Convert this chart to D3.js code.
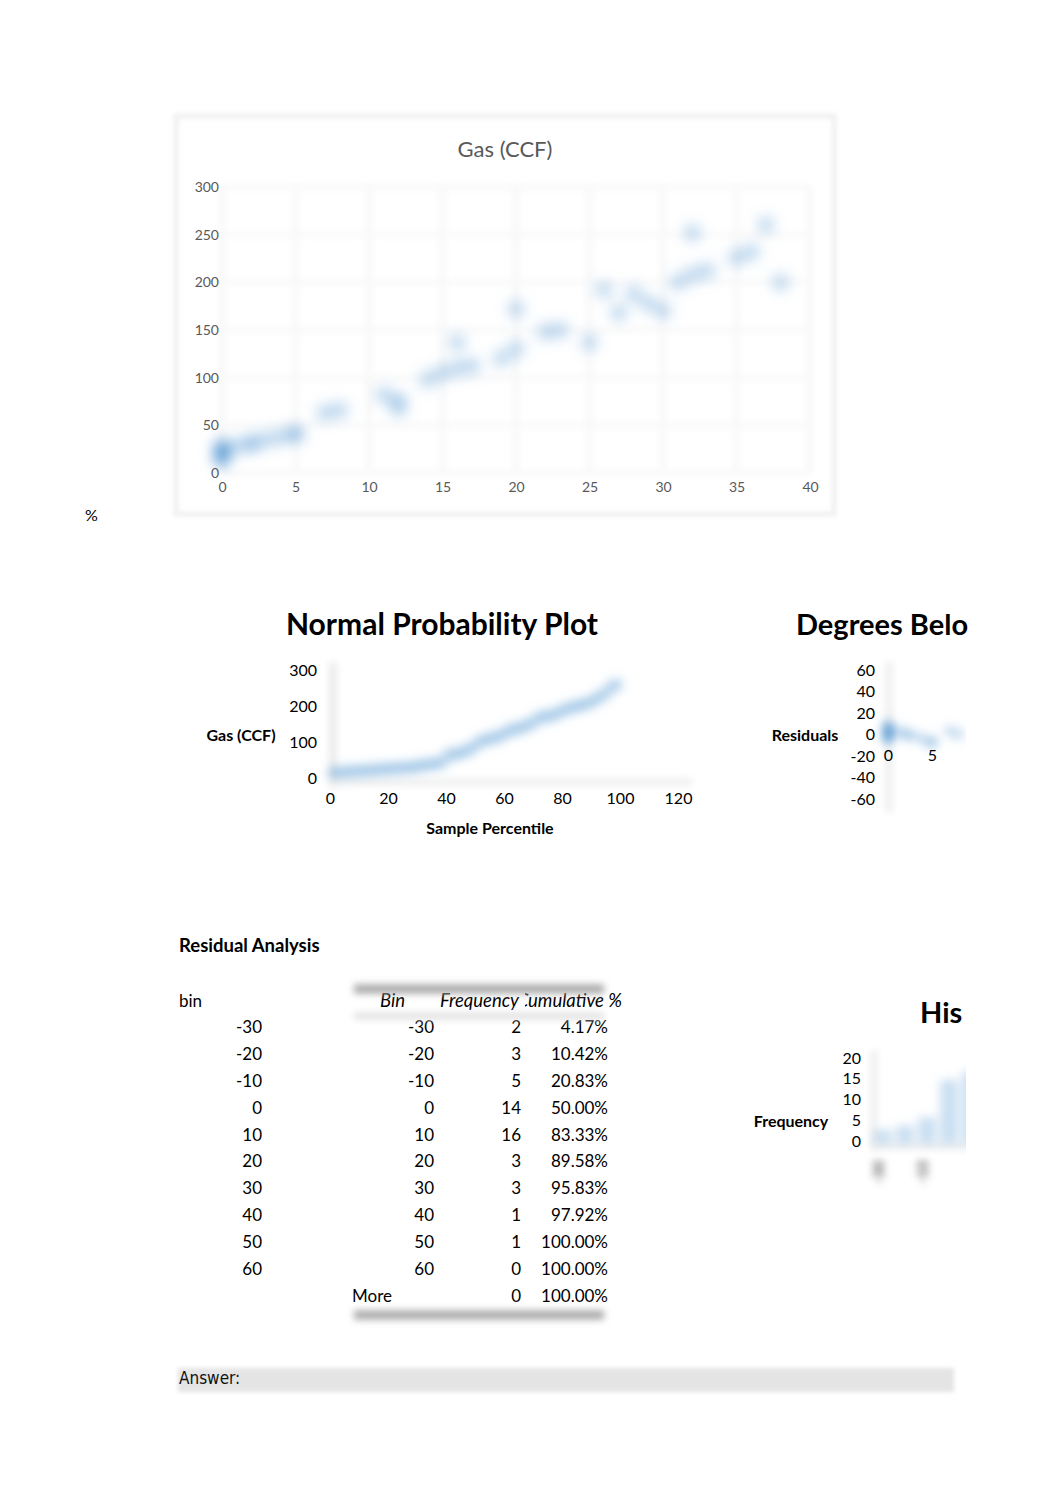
<!DOCTYPE html>
<html lang="en">
<head>
<meta charset="UTF-8">
<title>Gas regression</title>
<script src="https://cdn.jsdelivr.net/npm/d3@7/dist/d3.min.js"></script>
<style>
    body { margin: 0; background: #fff; }
    svg { font-family: Lato, "Open Sans", sans-serif; }
    .axis path, .axis line { display: none; }
</style>
</head>
<body>
<svg id="page"></svg>
<script>
    // data
    const degrees = [0, 0, 0, 0, 0, 0, 0, 0, 0, 0, 0, 0, 1, 2, 2, 3, 4, 5, 5, 7, 8, 11, 12, 12,
        14, 15, 16, 16, 17, 19, 20, 20, 22, 23, 25, 26, 27, 28, 29, 30, 31, 32, 32, 33, 35, 36, 37, 38];
    const gas = [14, 16, 17, 18, 19, 20, 21, 22, 24, 25, 26, 28, 28, 30, 32, 35, 38, 40, 42, 63, 66, 82, 68, 76,
        98, 105, 110, 137, 112, 120, 130, 172, 148, 150, 137, 192, 168, 188, 178, 170, 200, 208, 252, 212, 226, 232, 260, 200];

    const scatterXTicks = [0, 5, 10, 15, 20, 25, 30, 35, 40];
    const scatterYTicks = [0, 50, 100, 150, 200, 250, 300];
    const probXTicks = [0, 20, 40, 60, 80, 100, 120];
    const probYTicks = [0, 100, 200, 300];
    const residYTicks = [-60, -40, -20, 0, 20, 40, 60];
    const residXTicks = [0, 5];
    const histYTicks = [0, 5, 10, 15, 20];

    const binLabels = ['-30', '-20', '-10', '0', '10', '20', '30', '40', '50', '60'];
    const histBins = ['-30', '-20', '-10', '0', '10', '20', '30', '40', '50', '60', 'More'];
    const histFreq = [2, 3, 5, 14, 16, 3, 3, 1, 1, 0, 0];

    const svg = d3.select('#page').attr('width', 1062).attr('height', 1506);
    svg.append('rect').attr('width', 1062).attr('height', 1506).attr('fill', '#fff');

    // blur filters in page units, so thin lines (zero-size bbox) still render
    const defs = svg.append('defs');
    [2, 3.5, 7, 5].forEach((s, i) => {
        defs.append('filter').attr('id', 'blur' + i).attr('filterUnits', 'userSpaceOnUse')
            .attr('x', 0).attr('y', 0).attr('width', 1062).attr('height', 1506)
            .append('feGaussianBlur').attr('stdDeviation', s);
    });

    const plain = d => String(d);   // hyphen minus, no decimals

    function styleTicks(g, size, color) {
        g.selectAll('text').attr('font-size', size).attr('fill', color).attr('font-family', 'Lato, sans-serif');
    }

    // ---------- scatter: Gas (CCF) ----------
    svg.append('rect').attr('x', 176).attr('y', 116).attr('width', 658).attr('height', 398)
        .attr('fill', 'none').attr('stroke', '#f0f0f0').attr('stroke-width', 5).attr('filter', 'url(#blur0)');

    const x1 = d3.scaleLinear().domain([0, 40]).range([222, 810]);
    const y1 = d3.scaleLinear().domain([0, 300]).range([473, 187]);

    const grid1 = svg.append('g').attr('filter', 'url(#blur1)');
    grid1.selectAll('.v').data(scatterXTicks).enter().append('line')
        .attr('x1', d => x1(d)).attr('x2', d => x1(d)).attr('y1', y1(300)).attr('y2', y1(0))
        .attr('stroke', '#f5f5f5').attr('stroke-width', 4);
    grid1.selectAll('.h').data(scatterYTicks).enter().append('line')
        .attr('x1', x1(0)).attr('x2', x1(40)).attr('y1', d => y1(d)).attr('y2', d => y1(d))
        .attr('stroke', '#f7f7f7').attr('stroke-width', 4);

    svg.append('g').attr('filter', 'url(#blur2)')
        .selectAll('circle').data(degrees).enter().append('circle')
        .attr('cx', d => x1(d)).attr('cy', (d, i) => y1(gas[i])).attr('r', 8)
        .attr('fill', '#5b9bd5').attr('fill-opacity', 0.45);

    svg.append('text').attr('x', 505).attr('y', 157).attr('text-anchor', 'middle')
        .attr('font-size', 22).attr('fill', '#595959').text('Gas (CCF)');

    svg.append('g').attr('class', 'axis').attr('transform', `translate(${x1(0)},0)`)
        .call(d3.axisLeft(y1).tickValues(scatterYTicks).tickFormat(plain).tickSize(0).tickPadding(3))
        .call(g => styleTicks(g, 14, '#595959'));
    svg.append('g').attr('class', 'axis').attr('transform', `translate(0,${y1(0)})`)
        .call(d3.axisBottom(x1).tickValues(scatterXTicks).tickFormat(plain).tickSize(0).tickPadding(9))
        .call(g => styleTicks(g, 14, '#595959'));

    svg.append('text').attr('x', 85).attr('y', 521).attr('font-size', 16).text('%');

    // ---------- normal probability plot ----------
    const sorted = gas.slice().sort((a, b) => a - b);
    const n = sorted.length;
    const probPts = sorted.map((v, i) => ({ p: (i + 0.5) * 100 / n, v: v }));

    const x2 = d3.scaleLinear().domain([0, 120]).range([330, 678]);
    const y2 = d3.scaleLinear().domain([0, 300]).range([778, 670]);

    const frame2 = svg.append('g').attr('filter', 'url(#blur1)');
    frame2.append('line').attr('x1', x2(0) + 3).attr('x2', x2(0) + 3).attr('y1', 662).attr('y2', 788)
        .attr('stroke', '#e8e8e8').attr('stroke-width', 7);
    frame2.append('line').attr('x1', x2(0)).attr('x2', 692).attr('y1', y2(0) + 4).attr('y2', y2(0) + 4)
        .attr('stroke', '#efefef').attr('stroke-width', 7);

    svg.append('g').attr('filter', 'url(#blur3)')
        .selectAll('circle').data(probPts).enter().append('circle')
        .attr('cx', d => x2(d.p)).attr('cy', d => y2(d.v)).attr('r', 7)
        .attr('fill', '#5b9bd5').attr('fill-opacity', 0.3);

    svg.append('text').attr('x', 442).attr('y', 635).attr('text-anchor', 'middle')
        .attr('font-size', 30).attr('font-weight', 'bold').text('Normal Probability Plot');
    svg.append('g').attr('class', 'axis').attr('transform', `translate(${x2(0)},0)`)
        .call(d3.axisLeft(y2).tickValues(probYTicks).tickFormat(plain).tickSize(0).tickPadding(13))
        .call(g => styleTicks(g, 16, '#000'));
    svg.append('g').attr('class', 'axis').attr('transform', `translate(0,${y2(0)})`)
        .call(d3.axisBottom(x2).tickValues(probXTicks).tickFormat(plain).tickSize(0).tickPadding(15))
        .call(g => styleTicks(g, 16, '#000'));
    svg.append('text').attr('x', 241).attr('y', 741).attr('text-anchor', 'middle')
        .attr('font-size', 16).attr('font-weight', 'bold').text('Gas (CCF)');
    svg.append('text').attr('x', 490).attr('y', 834).attr('text-anchor', 'middle')
        .attr('font-size', 16).attr('font-weight', 'bold').text('Sample Percentile');

    // ---------- residual plot (cut off at the page edge) ----------
    const fit = (() => {
        const mx = d3.mean(degrees), my = d3.mean(gas);
        const b = d3.sum(degrees, (d, i) => (d - mx) * (gas[i] - my)) / d3.sum(degrees, d => (d - mx) * (d - mx));
        return { a: my - b * mx, b: b };
    })();
    const residuals = degrees.map((d, i) => gas[i] - (fit.a + fit.b * d));

    const x3 = d3.scaleLinear().domain([0, 5]).range([888, 932]);
    const y3 = d3.scaleLinear().domain([-60, 60]).range([799, 670]);

    defs.append('clipPath').attr('id', 'clipR').append('rect')
        .attr('x', 860).attr('y', 640).attr('width', 106).attr('height', 190);
    const resG = svg.append('g').attr('clip-path', 'url(#clipR)');
    resG.append('line').attr('x1', 889).attr('x2', 889).attr('y1', 662).attr('y2', 812)
        .attr('stroke', '#eeeeee').attr('stroke-width', 7).attr('filter', 'url(#blur1)');
    resG.append('g').attr('filter', 'url(#blur3)')
        .selectAll('circle').data(residuals).enter().append('circle')
        .attr('cx', (d, i) => x3(degrees[i])).attr('cy', d => y3(d)).attr('r', 6)
        .attr('fill', '#5b9bd5').attr('fill-opacity', 0.3);

    svg.append('text').attr('x', 796).attr('y', 635)
        .attr('font-size', 29).attr('font-weight', 'bold').text('Degrees Belo');
    svg.append('g').attr('class', 'axis').attr('transform', `translate(${x3(0)},0)`)
        .call(d3.axisLeft(y3).tickValues(residYTicks).tickFormat(plain).tickSize(0).tickPadding(13))
        .call(g => styleTicks(g, 16, '#000'));
    svg.append('g').attr('class', 'axis').attr('transform', `translate(0,${y3(0)})`)
        .call(d3.axisBottom(x3).tickValues(residXTicks).tickFormat(plain).tickSize(0).tickPadding(15))
        .call(g => styleTicks(g, 16, '#000'));
    svg.append('text').attr('x', 805).attr('y', 741).attr('text-anchor', 'middle')
        .attr('font-size', 16).attr('font-weight', 'bold').text('Residuals');

    // ---------- residual analysis table ----------
    svg.append('text').attr('x', 179).attr('y', 952)
        .attr('font-size', 18.5).attr('font-weight', 'bold').text('Residual Analysis');

    const rowY = d3.scaleLinear().domain([0, 10]).range([1027, 1296]);
    const total = d3.sum(histFreq);
    const cum = Array.from(d3.cumsum(histFreq)).map(c => (c / total * 100).toFixed(2) + '%');

    const tbl = svg.append('g').attr('font-size', 17).attr('fill', '#000');
    tbl.append('text').attr('x', 179).attr('y', 1001).attr('dy', '0.35em').text('bin');
    tbl.selectAll('.lb').data(binLabels).enter().append('text')
        .attr('x', 262).attr('y', (d, i) => rowY(i)).attr('dy', '0.35em')
        .attr('text-anchor', 'end').text(d => d);

    const borders = svg.append('g');
    borders.append('line').attr('x1', 354).attr('x2', 604).attr('y1', 989).attr('y2', 989)
        .attr('stroke', '#a8a8a8').attr('stroke-width', 9).attr('filter', 'url(#blur1)');
    borders.append('line').attr('x1', 354).attr('x2', 604).attr('y1', 1016).attr('y2', 1016)
        .attr('stroke', '#dddddd').attr('stroke-width', 6).attr('filter', 'url(#blur1)');
    borders.append('line').attr('x1', 354).attr('x2', 604).attr('y1', 1315).attr('y2', 1315)
        .attr('stroke', '#a8a8a8').attr('stroke-width', 9).attr('filter', 'url(#blur1)');

    tbl.append('text').attr('x', 405).attr('y', 1001).attr('dy', '0.35em')
        .attr('text-anchor', 'end').attr('font-style', 'italic').attr('font-size', 18.5).text('Bin');
    tbl.append('text').attr('x', 440).attr('y', 1001).attr('dy', '0.35em')
        .attr('font-style', 'italic').attr('font-size', 18.5).text('Frequency');
    // "Cumulative %" is overdrawn by the Frequency cell, so only its tail shows
    defs.append('clipPath').attr('id', 'clipCum').append('rect')
        .attr('x', 525).attr('y', 985).attr('width', 120).attr('height', 30);
    tbl.append('text').attr('x', 622).attr('y', 1001).attr('dy', '0.35em')
        .attr('text-anchor', 'end').attr('font-style', 'italic').attr('font-size', 18.5)
        .attr('clip-path', 'url(#clipCum)').text('Cumulative %');

    tbl.selectAll('.bn').data(histBins).enter().append('text')
        .attr('x', d => d === 'More' ? 352 : 434).attr('y', (d, i) => rowY(i)).attr('dy', '0.35em')
        .attr('text-anchor', d => d === 'More' ? 'start' : 'end').text(d => d);
    tbl.selectAll('.fq').data(histFreq).enter().append('text')
        .attr('x', 521).attr('y', (d, i) => rowY(i)).attr('dy', '0.35em')
        .attr('text-anchor', 'end').text(d => d);
    tbl.selectAll('.cm').data(cum).enter().append('text')
        .attr('x', 608).attr('y', (d, i) => rowY(i)).attr('dy', '0.35em')
        .attr('text-anchor', 'end').text(d => d);

    // ---------- histogram (cut off at the page edge) ----------
    const x4 = d3.scaleBand().domain(histBins).range([872, 872 + 22 * histBins.length]).paddingInner(0.2).paddingOuter(0.1);
    const y4 = d3.scaleLinear().domain([0, 20]).range([1141, 1058]);

    defs.append('clipPath').attr('id', 'clipH').append('rect')
        .attr('x', 862).attr('y', 1040).attr('width', 104).attr('height', 150);
    const hG = svg.append('g').attr('clip-path', 'url(#clipH)');
    hG.append('line').attr('x1', 874).attr('x2', 874).attr('y1', 1050).attr('y2', 1150)
        .attr('stroke', '#eeeeee').attr('stroke-width', 7).attr('filter', 'url(#blur1)');
    hG.append('line').attr('x1', 872).attr('x2', 970).attr('y1', y4(0) + 5).attr('y2', y4(0) + 5)
        .attr('stroke', '#efefef').attr('stroke-width', 7).attr('filter', 'url(#blur1)');
    hG.append('g').attr('filter', 'url(#blur3)')
        .selectAll('rect').data(histFreq).enter().append('rect')
        .attr('x', (d, i) => x4(histBins[i])).attr('width', x4.bandwidth())
        .attr('y', d => y4(d) - 3).attr('height', d => y4(0) - y4(d) + 6)
        .attr('fill', '#5b9bd5').attr('fill-opacity', 0.32);
    // only the category labels that fall inside the visible strip
    const shownCats = histBins.filter((d, i) => i % 2 === 0 && x4(d) < 950);
    hG.append('g').attr('filter', 'url(#blur1)')
        .selectAll('text').data(shownCats).enter().append('text')
        .attr('transform', d => `translate(${x4(d) + x4.bandwidth() / 2 - 4},1172) rotate(-90)`)
        .attr('text-anchor', 'middle').attr('dy', '0.35em')
        .attr('font-size', 15).attr('font-weight', 'bold').attr('fill', '#666').text(d => d);

    svg.append('text').attr('x', 920).attr('y', 1023)
        .attr('font-size', 29).attr('font-weight', 'bold').text('His');
    svg.append('g').attr('class', 'axis').attr('transform', 'translate(874,0)')
        .call(d3.axisLeft(y4).tickValues(histYTicks).tickFormat(plain).tickSize(0).tickPadding(13))
        .call(g => styleTicks(g, 16, '#000'));
    svg.append('text').attr('x', 791).attr('y', 1127).attr('text-anchor', 'middle')
        .attr('font-size', 16).attr('font-weight', 'bold').text('Frequency');

    // ---------- answer box ----------
    svg.append('rect').attr('x', 178).attr('y', 1368).attr('width', 776).attr('height', 24)
        .attr('fill', '#e4e4e4').attr('filter', 'url(#blur0)');
    svg.append('text').attr('x', 179).attr('y', 1384).attr('font-size', 17)
        .attr('font-family', '"Liberation Sans Narrow", "DejaVu Sans Condensed", sans-serif')
        .attr('fill', '#111').text('Answer:');
</script>
</body>
</html>
